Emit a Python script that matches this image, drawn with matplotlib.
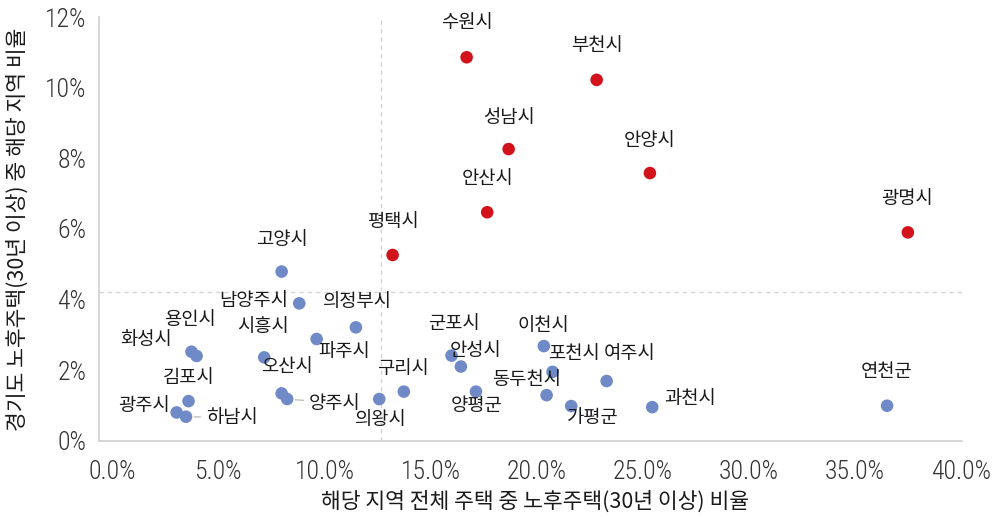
import matplotlib
matplotlib.use("Agg")
import matplotlib.pyplot as plt
from matplotlib.ticker import FuncFormatter

plt.rcParams['font.family'] = ['Noto Sans CJK KR', 'DejaVu Sans']

# 노후주택 비율 데이터 (x: 지역 내 비율 %, y: 경기도 전체 중 비중 %)
red_names = ['수원시', '부천시', '성남시', '안양시', '안산시', '평택시', '광명시']
red_x = [16.70, 22.83, 18.68, 25.34, 17.67, 13.21, 37.50]
red_y = [10.86, 10.22, 8.26, 7.58, 6.47, 5.26, 5.90]

blue_names = ['고양시', '남양주시', '의정부시', '파주시', '용인시', '화성시', '시흥시',
              '김포시', '광주시', '하남시', '오산시', '양주시', '의왕시', '구리시',
              '군포시', '안성시', '양평군', '이천시', '포천시', '동두천시', '가평군',
              '여주시', '과천시', '연천군']
blue_x = [7.98, 8.81, 11.48, 9.63, 3.73, 3.97, 7.16,
          3.59, 3.03, 3.47, 7.98, 8.24, 12.58, 13.74,
          15.99, 16.43, 17.14, 20.34, 20.75, 20.47, 21.63,
          23.30, 25.45, 36.52]
blue_y = [4.79, 3.89, 3.21, 2.88, 2.52, 2.40, 2.36,
          1.12, 0.80, 0.68, 1.34, 1.18, 1.18, 1.39,
          2.41, 2.10, 1.39, 2.68, 1.95, 1.29, 0.98,
          1.69, 0.95, 0.99]

avg_x = 12.65
avg_y = 4.2

# label placement: (dx px, dy px, ha, leader line)
red_lab = [(0, 35, 'center', False), (0, 34, 'center', False), (0, 32, 'center', False),
           (0, 33, 'center', False), (0, 34, 'center', False), (0, 33, 'center', False),
           (-1, 34, 'center', False)]
blue_lab = [(0, 32, 'center', False), (-11, 3, 'right', False), (2, 26, 'center', False),
            (2, -12, 'left', False), (-2, 32, 'center', False), (-25, 16, 'right', False),
            (-1, 31, 'center', False), (0, 24, 'center', False), (-7, 7, 'right', False),
            (20, -1, 'left', True), (5, 27, 'center', False), (22, -4, 'left', True),
            (2, -20, 'center', False), (-1, 23, 'center', False), (2, 32, 'center', False),
            (15, 16, 'center', False), (1, -14, 'center', False), (0, 21, 'center', False),
            (21, 18, 'center', False), (-20, 16, 'center', False), (22, -11, 'center', False),
            (23, 28, 'center', False), (12, 9, 'left', False), (0, 34, 'center', False)]

red_c = '#D2131C'
blue_c = '#7089C7'

fig = plt.figure(figsize=(10.01, 5.17), dpi=100)
ax = fig.add_axes([0.0989, 0.1476, 0.8621, 0.8195])

ax.axvline(avg_x, color='#d4d4d4', lw=1, ls=(0, (3, 3)), zorder=1)
ax.axhline(avg_y, color='#d4d4d4', lw=1, ls=(0, (3, 3)), zorder=1)

ax.scatter(blue_x, blue_y, s=82, color=blue_c, edgecolors='none', zorder=3)
ax.scatter(red_x, red_y, s=82, color=red_c, edgecolors='none', zorder=3)


def put_labels(names, xs, ys, labs):
    for n, x, y, (dx, dy, ha, lead) in zip(names, xs, ys, labs):
        kw = dict(xytext=(dx, dy), textcoords='offset pixels', ha=ha, va='center',
                  fontsize=13.5, color='#1a1a1a')
        if lead:
            kw['arrowprops'] = dict(arrowstyle='-', color='#bfbfbf', lw=1,
                                    shrinkA=2, shrinkB=6)
        ax.annotate(n, (x, y), **kw)


put_labels(red_names, red_x, red_y, red_lab)
put_labels(blue_names, blue_x, blue_y, blue_lab)

ax.set_xlim(-0.63, 40.05)
ax.set_ylim(0, 12)
ax.set_xticks(range(0, 41, 5))
ax.set_yticks(range(0, 13, 2))
ax.xaxis.set_major_formatter(FuncFormatter(lambda v, p: f'{v:.1f}%'))
ax.yaxis.set_major_formatter(FuncFormatter(lambda v, p: f'{v:.0f}%'))
ax.tick_params(length=0, labelsize=18.5, labelcolor='#333333')
ax.tick_params(axis='x', pad=14)
ax.tick_params(axis='y', pad=9)
for lbl in ax.get_xticklabels() + ax.get_yticklabels():
    lbl.set_family(['Roboto Condensed', 'DejaVu Sans'])
    lbl.set_weight('light')

for s in ['top', 'right']:
    ax.spines[s].set_visible(False)
for s in ['left', 'bottom']:
    ax.spines[s].set_color('#d0d0d0')
    ax.spines[s].set_linewidth(1.2)

ax.set_xlabel('해당 지역 전체 주택 중 노후주택(30년 이상) 비율', fontsize=15.5,
              color='#1a1a1a', va='center')
ax.xaxis.set_label_coords(0.505, -0.145)
ax.set_ylabel('경기도 노후주택(30년 이상) 중 해당 지역 비율', fontsize=15.5,
              color='#1a1a1a', va='center')
ax.yaxis.set_label_coords(-0.0943, 0.498)

fig.savefig('out.png', dpi=100)
